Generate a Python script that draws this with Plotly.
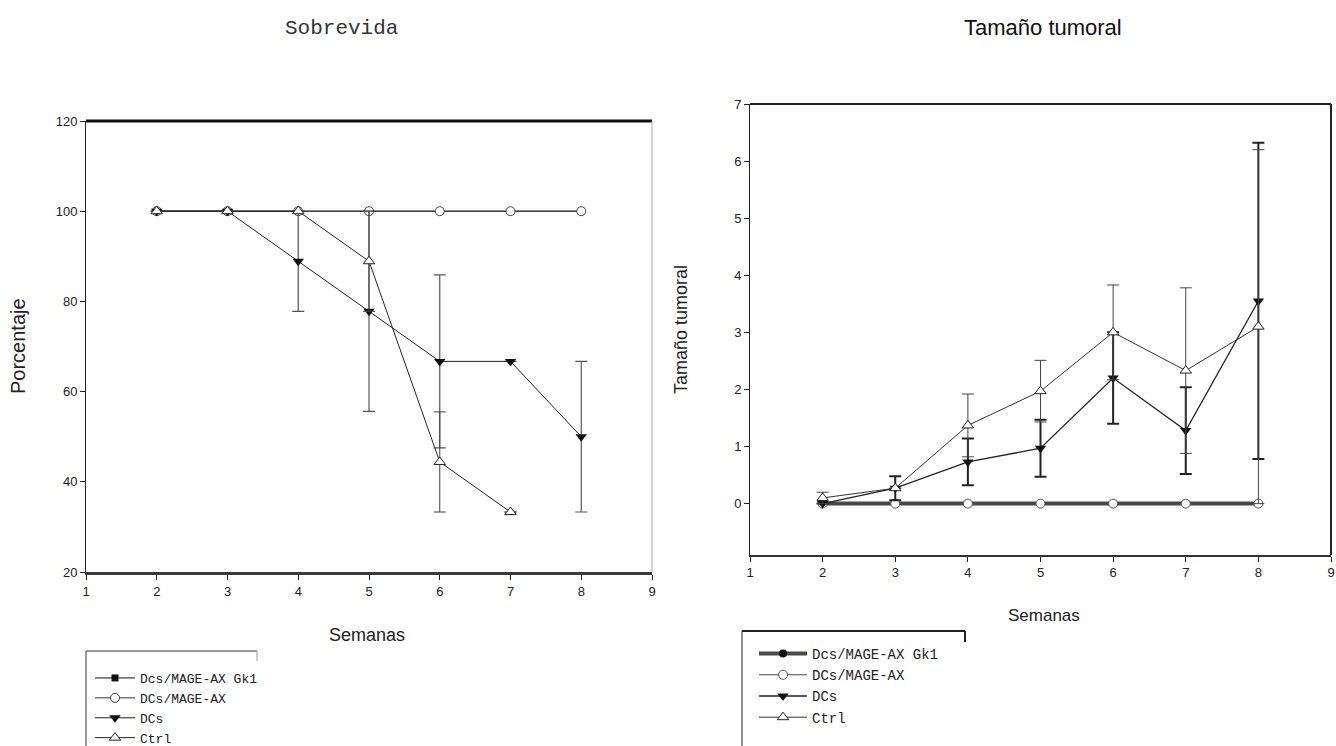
import plotly.graph_objects as go

# ---- data -------------------------------------------------------------
weeks = [2, 3, 4, 5, 6, 7, 8]
weeks_ctrl_surv = [2, 3, 4, 5, 6, 7]

# Survival (%)
surv_gk1 = [100, 100, 100, 100, 100, 100, 100]
surv_mage = [100, 100, 100, 100, 100, 100, 100]
surv_dcs = [100, 100, 88.9, 77.8, 66.7, 66.7, 50]
surv_dcs_err = [0, 0, 11.1, 22.2, 19.2, 0, 16.7]
surv_ctrl = [100, 100, 100, 88.9, 44.4, 33.3]
surv_ctrl_err = [0, 0, 0, 11.1, 11.1, 0]

# Tumour size
tum_gk1 = [0, 0, 0, 0, 0, 0, 0]
tum_mage = [0, 0, 0, 0, 0, 0, 0]
tum_dcs = [0.0, 0.27, 0.73, 0.97, 2.2, 1.28, 3.55]
tum_dcs_err = [0, 0.21, 0.41, 0.5, 0.8, 0.76, 2.77]
tum_ctrl = [0.1, 0.27, 1.37, 1.97, 3.0, 2.33, 3.1]
tum_ctrl_err = [0.1, 0, 0.55, 0.54, 0.83, 1.45, 3.1]

series_names = ["Dcs/MAGE-AX Gk1", "DCs/MAGE-AX", "DCs", "Ctrl"]
x_ticks = [1, 2, 3, 4, 5, 6, 7, 8, 9]
surv_ticks = [20, 40, 60, 80, 100, 120]
tum_ticks = [0, 1, 2, 3, 4, 5, 6, 7]

# ---- page geometry (pixels -> paper fractions) -------------------------
W, H = 1336, 746


def px(v):
    return v / W


def py(v):
    return 1 - v / H


MONO = "Liberation Mono, DejaVu Sans Mono, monospace"
SANS = "Liberation Sans, Arial, sans-serif"
NARROW = "Liberation Sans Narrow, Liberation Sans, Arial, sans-serif"

fig = go.Figure()


def err(vals, color, thick):
    return dict(type="data", array=vals, visible=True, color=color,
                thickness=thick, width=6)


# ---- survival panel ----------------------------------------------------
fig.add_trace(go.Scatter(
    x=weeks, y=surv_gk1, name=series_names[0], xaxis="x", yaxis="y",
    mode="lines+markers", legend="legend",
    line=dict(color="#111", width=1),
    marker=dict(symbol="square", size=7, color="#111")))
fig.add_trace(go.Scatter(
    x=weeks, y=surv_mage, name=series_names[1], xaxis="x", yaxis="y",
    mode="lines+markers", legend="legend",
    line=dict(color="#333", width=1),
    marker=dict(symbol="circle", size=9, color="white",
                line=dict(color="#444", width=1))))
fig.add_trace(go.Scatter(
    x=weeks, y=surv_dcs, name=series_names[2], xaxis="x", yaxis="y",
    mode="lines+markers", legend="legend",
    line=dict(color="#222", width=1),
    error_y=err(surv_dcs_err, "#555", 1.2),
    marker=dict(symbol="triangle-down", size=10, color="#111")))
fig.add_trace(go.Scatter(
    x=weeks_ctrl_surv, y=surv_ctrl, name=series_names[3], xaxis="x", yaxis="y",
    mode="lines+markers", legend="legend",
    line=dict(color="#222", width=1),
    error_y=err(surv_ctrl_err, "#444", 1),
    marker=dict(symbol="triangle-up", size=10, color="white",
                line=dict(color="#222", width=1))))

# ---- tumour size panel -------------------------------------------------
fig.add_trace(go.Scatter(
    x=weeks, y=tum_gk1, name=series_names[0], xaxis="x2", yaxis="y2",
    mode="lines+markers", legend="legend2",
    line=dict(color="#4a4a4a", width=4),
    marker=dict(symbol="circle", size=8, color="#111")))
fig.add_trace(go.Scatter(
    x=weeks, y=tum_mage, name=series_names[1], xaxis="x2", yaxis="y2",
    mode="lines+markers", legend="legend2",
    line=dict(color="#444", width=1),
    marker=dict(symbol="circle", size=9, color="white",
                line=dict(color="#555", width=1))))
fig.add_trace(go.Scatter(
    x=weeks, y=tum_dcs, name=series_names[2], xaxis="x2", yaxis="y2",
    mode="lines+markers", legend="legend2",
    line=dict(color="#222", width=1.3),
    error_y=err(tum_dcs_err, "#222", 2),
    marker=dict(symbol="triangle-down", size=10, color="#111")))
fig.add_trace(go.Scatter(
    x=weeks, y=tum_ctrl, name=series_names[3], xaxis="x2", yaxis="y2",
    mode="lines+markers", legend="legend2",
    line=dict(color="#333", width=1),
    error_y=err(tum_ctrl_err, "#444", 1),
    marker=dict(symbol="triangle-up", size=10, color="white",
                line=dict(color="#222", width=1))))

tickfont = dict(family=NARROW, size=13, color="#222")
axis_common = dict(ticks="outside", ticklen=5, tickcolor="#222",
                   showgrid=False, zeroline=False, tickfont=tickfont,
                   fixedrange=True, ticklabeloverflow="allow")

fig.update_layout(
    width=W, height=H,
    margin=dict(l=0, r=0, t=0, b=0, autoexpand=False),
    paper_bgcolor="white", plot_bgcolor="white", showlegend=True,
    xaxis=dict(domain=[px(86), px(652)], anchor="y", range=[1, 9],
               tickvals=x_ticks, showline=True, linewidth=3,
               linecolor="#3a3a3a", **axis_common),
    yaxis=dict(domain=[py(572), py(121)], anchor="x", range=[20, 120],
               tickvals=surv_ticks, showline=True, linewidth=1,
               linecolor="#222", **axis_common),
    xaxis2=dict(domain=[px(750), px(1331)], anchor="y2", range=[1, 9],
                tickvals=x_ticks, showline=True, linewidth=1.5,
                linecolor="#333", **axis_common),
    yaxis2=dict(domain=[py(555), py(104)], anchor="x2", range=[-0.9, 7],
                tickvals=tum_ticks, showline=True, linewidth=1,
                linecolor="#222", **axis_common),
    legend=dict(x=px(90), y=py(663), xanchor="left", yanchor="top",
                bgcolor="rgba(0,0,0,0)", borderwidth=0,
                font=dict(family=MONO, size=13, color="#222"),
                itemwidth=40, tracegroupgap=0),
    legend2=dict(x=px(754), y=py(638), xanchor="left", yanchor="top",
                 bgcolor="rgba(0,0,0,0)", borderwidth=0,
                 font=dict(family=MONO, size=14, color="#222"),
                 itemwidth=48, tracegroupgap=0),
)

# Frame lines that differ in weight from the axis lines
shapes = [
    # survival panel: heavy top, light right
    dict(type="line", xref="x domain", yref="y domain", x0=0, x1=1, y0=1, y1=1,
         line=dict(color="#111", width=3)),
    dict(type="line", xref="x domain", yref="y domain", x0=1, x1=1, y0=0, y1=1,
         line=dict(color="#aaa", width=1)),
    # tumour panel: top and right
    dict(type="line", xref="x2 domain", yref="y2 domain", x0=0, x1=1, y0=1, y1=1,
         line=dict(color="#222", width=2)),
    dict(type="line", xref="x2 domain", yref="y2 domain", x0=1, x1=1, y0=0, y1=1,
         line=dict(color="#222", width=2)),
    # legend frames (open at the bottom)
    dict(type="line", xref="paper", yref="paper", x0=px(86), x1=px(257),
         y0=py(651), y1=py(651), line=dict(color="#333", width=1)),
    dict(type="line", xref="paper", yref="paper", x0=px(86), x1=px(86),
         y0=py(651), y1=py(746), line=dict(color="#333", width=1)),
    dict(type="line", xref="paper", yref="paper", x0=px(257), x1=px(257),
         y0=py(651), y1=py(661), line=dict(color="#999", width=1)),
    dict(type="line", xref="paper", yref="paper", x0=px(742), x1=px(965),
         y0=py(631), y1=py(631), line=dict(color="#222", width=2)),
    dict(type="line", xref="paper", yref="paper", x0=px(742), x1=px(742),
         y0=py(631), y1=py(746), line=dict(color="#222", width=1)),
    dict(type="line", xref="paper", yref="paper", x0=px(965), x1=px(965),
         y0=py(631), y1=py(642), line=dict(color="#222", width=2)),
]
fig.update_layout(shapes=shapes)

annotations = [
    dict(text="Sobrevida", x=px(341), y=py(28), font=dict(family=MONO, size=21, color="#333")),
    dict(text="Tamaño tumoral", x=px(1043), y=py(27), font=dict(family=SANS, size=22, color="#111")),
    dict(text="Semanas", x=px(367), y=py(635), font=dict(family=SANS, size=18, color="#222")),
    dict(text="Semanas", x=px(1044), y=py(615), font=dict(family=SANS, size=17, color="#222")),
    dict(text="Porcentaje", x=px(18), y=py(346), textangle=-90,
         font=dict(family=SANS, size=20, color="#222")),
    dict(text="Tamaño tumoral", x=px(681), y=py(330), textangle=-90,
         font=dict(family=SANS, size=18, color="#222")),
]
for a in annotations:
    a.update(xref="paper", yref="paper", showarrow=False,
             xanchor="center", yanchor="middle")
fig.update_layout(annotations=annotations)

fig.write_html("out.html")
